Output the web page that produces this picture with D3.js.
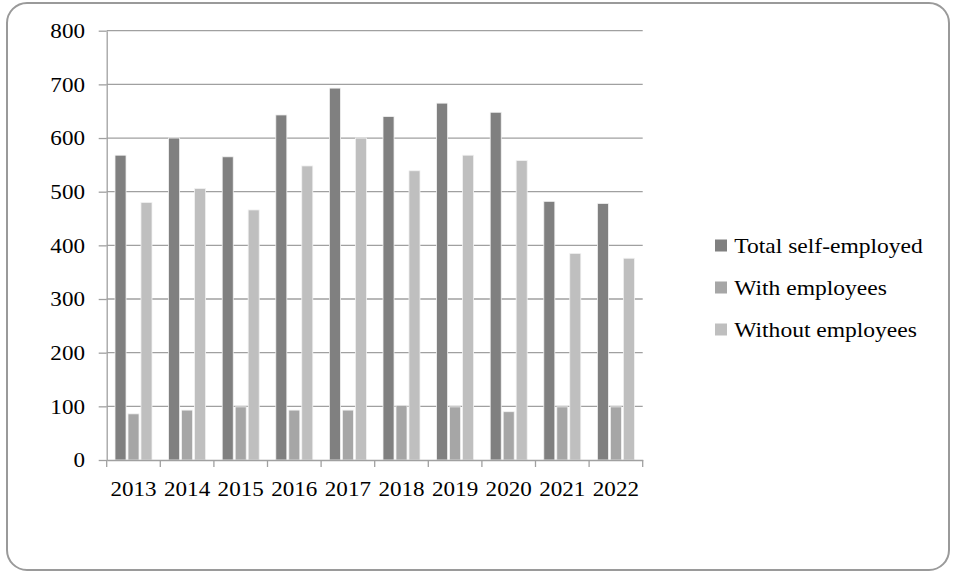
<!DOCTYPE html>
<html>
<head>
<meta charset="utf-8">
<script src="https://cdn.jsdelivr.net/npm/d3@7"></script>
<style>
  body { margin: 0; background: #fff; }
  svg { display: block; }
  text { font-family: "Liberation Serif", "Times New Roman", serif; fill: #000; }
</style>
</head>
<body>
<div id="chart"></div>
<script>
const years = ['2013', '2014', '2015', '2016', '2017', '2018', '2019', '2020', '2021', '2022']
const seriesNames = ['Total self-employed', 'With employees', 'Without employees']
const totalSelfEmployed = [568, 600, 565, 643, 693, 640, 665, 648, 482, 478]
const withEmployees = [86, 93, 99, 93, 93, 102, 99, 90, 99, 99]
const withoutEmployees = [480, 506, 466, 548, 600, 539, 568, 558, 385, 376]
const yTicks = [0, 100, 200, 300, 400, 500, 600, 700, 800]
const colors = ['#808080', '#a6a6a6', '#bfbfbf']

const seriesValues = [totalSelfEmployed, withEmployees, withoutEmployees]

const W = 953, H = 572
const margin = { top: 30.7, left: 106.7, right: 310.3, bottom: 112 }
const width = W - margin.left - margin.right
const height = H - margin.top - margin.bottom

const svg = d3
  .select('#chart')
  .append('svg')
  .attr('width', W)
  .attr('height', H)

// outer frame
svg
  .append('rect')
  .attr('x', 7)
  .attr('y', 3)
  .attr('width', 942)
  .attr('height', 567)
  .attr('rx', 20)
  .attr('ry', 20)
  .attr('fill', '#fff')
  .attr('stroke', '#9a9a9a')
  .attr('stroke-width', 2)

const g = svg
  .append('g')
  .attr('transform', 'translate(' + margin.left + ',' + margin.top + ')')

const x0 = d3.scaleBand().domain(years).range([0, width])
const x1 = d3
  .scaleBand()
  .domain(seriesNames)
  .range([8.3, x0.bandwidth() - 8.3])
  .paddingInner(0.15)
const y = d3.scaleLinear().domain([0, 800]).range([height, 0])

// gridlines
g.append('g')
  .selectAll('line')
  .data(yTicks.filter(d => d > 0))
  .enter()
  .append('line')
  .attr('x1', 0)
  .attr('x2', width)
  .attr('y1', d => y(d))
  .attr('y2', d => y(d))
  .attr('stroke', '#a0a0a0')
  .attr('stroke-width', 1.3)

// bars
const groups = g
  .selectAll('.year')
  .data(years)
  .enter()
  .append('g')
  .attr('transform', d => 'translate(' + x0(d) + ',0)')

groups
  .selectAll('rect')
  .data((d, i) => seriesNames.map((s, j) => ({ s, j, v: seriesValues[j][i] })))
  .enter()
  .append('rect')
  .attr('x', d => x1(d.s))
  .attr('width', x1.bandwidth())
  .attr('y', d => y(d.v))
  .attr('height', d => y(0) - y(d.v))
  .attr('fill', d => colors[d.j])
  .attr('stroke', '#f2f2f2')
  .attr('stroke-width', 0.8)

// Y axis
const yAxis = g
  .append('g')
  .call(d3.axisLeft(y).tickValues(yTicks).tickSize(8).tickPadding(13.7).tickSizeOuter(0))
yAxis.selectAll('path, line').attr('stroke', '#a0a0a0').attr('stroke-width', 1.3)
yAxis.selectAll('text').style('font-size', '21px').attr('transform', 'scale(1.1,1)')
  .attr('x', -21.7 / 1.1)

// X axis
const xAxis = g
  .append('g')
  .attr('transform', 'translate(0,' + height + ')')
  .call(d3.axisBottom(x0).tickSize(0).tickPadding(0).tickSizeOuter(0))
xAxis.select('path').attr('stroke', '#a0a0a0').attr('stroke-width', 1.3)
xAxis
  .selectAll('.tick text')
  .style('font-size', '21px')
  .attr('dy', null)
  .attr('y', 36)
  .attr('transform', 'scale(1.1,1)')
xAxis
  .selectAll('.sep')
  .data(d3.range(years.length + 1))
  .enter()
  .append('line')
  .attr('x1', i => i * x0.step())
  .attr('x2', i => i * x0.step())
  .attr('y1', 0)
  .attr('y2', 7)
  .attr('stroke', '#a0a0a0')
  .attr('stroke-width', 1.3)

// legend
const legend = svg
  .append('g')
  .attr('transform', 'translate(715,245.5)')
const item = legend
  .selectAll('g')
  .data(seriesNames)
  .enter()
  .append('g')
  .attr('transform', (d, i) => 'translate(0,' + i * 42 + ')')
item
  .append('rect')
  .attr('x', 0)
  .attr('y', -6)
  .attr('width', 12)
  .attr('height', 12)
  .attr('fill', (d, i) => colors[i])
item
  .append('text')
  .attr('x', 19.3 / 1.07)
  .attr('dy', '0.35em')
  .attr('transform', 'scale(1.07,1)')
  .style('font-size', '22px')
  .text(d => d)
</script>
</body>
</html>
